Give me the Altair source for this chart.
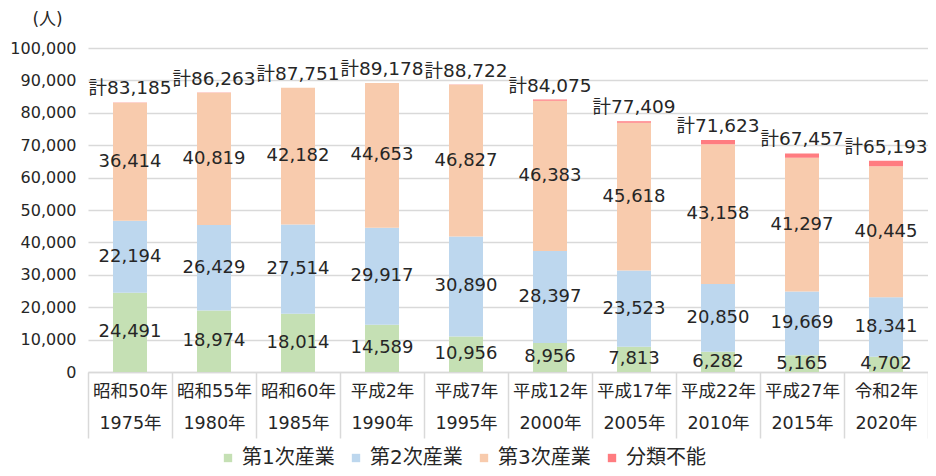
import altair as alt
import pandas as pd

eras = ["昭和50年", "昭和55年", "昭和60年", "平成2年", "平成7年",
        "平成12年", "平成17年", "平成22年", "平成27年", "令和2年"]
years = ["1975年", "1980年", "1985年", "1990年", "1995年",
         "2000年", "2005年", "2010年", "2015年", "2020年"]
primary = [24491, 18974, 18014, 14589, 10956, 8956, 7813, 6282, 5165, 4702]
secondary = [22194, 26429, 27514, 29917, 30890, 28397, 23523, 20850, 19669, 18341]
tertiary = [36414, 40819, 42182, 44653, 46827, 46383, 45618, 43158, 41297, 40445]
totals = [83185, 86263, 87751, 89178, 88722, 84075, 77409, 71623, 67457, 65193]
series = ["第1次産業", "第2次産業", "第3次産業", "分類不能"]
colors = ["#c5e0b4", "#bdd7ee", "#f8cbad", "#ff7c80"]
yticks = [0, 10000, 20000, 30000, 40000, 50000, 60000, 70000, 80000, 90000, 100000]

rows = []
for i in range(len(eras)):
    cat = eras[i] + "|" + years[i]
    unclassified = totals[i] - primary[i] - secondary[i] - tertiary[i]
    vals = [primary[i], secondary[i], tertiary[i], unclassified]
    for k, s in enumerate(series):
        rows.append({"cat": cat, "series": s, "order": k, "value": vals[k], "total": totals[i]})
df = pd.DataFrame(rows)
cats = [eras[i] + "|" + years[i] for i in range(len(eras))]

FONT = "DejaVu Sans, Noto Sans CJK JP"

xscale = alt.Scale(paddingInner=0, paddingOuter=0)
xaxis = alt.Axis(title=None, labelExpr="split(datum.label, '|')",
                 labelAngle=0, labelFontSize=17.5, labelFont=FONT,
                 labelColor="#262626", labelLineHeight=32,
                 labelBaseline="top", labelPadding=-56,
                 tickBand="extent", tickSize=66, tickColor="#d9d9d9",
                 tickWidth=1.5, domainColor="#d9d9d9", domainWidth=1.5,
                 grid=False)
yscale = alt.Scale(domain=[0, 100000])
yaxis = alt.Axis(title="(人)", titleAngle=0, titleX=-41, titleY=-20,
                 titleAlign="center", titleFontSize=17, titleFont=FONT,
                 titleFontWeight="normal", titleColor="#262626",
                 values=yticks, labelExpr="format(datum.value, ',.0f')",
                 labelOverlap=False,
                 labelFontSize=16, labelFont=FONT, labelColor="#262626",
                 labelPadding=12, domain=False, ticks=False,
                 gridColor="#d9d9d9", gridWidth=1.5)

base = alt.Chart(df).transform_stack(
    stack="value", groupby=["cat"], as_=["v0", "v1"],
    sort=[alt.SortField("order", order="ascending")]
).transform_calculate(mid="(datum.v0 + datum.v1) / 2")

bars = base.mark_bar(width=34).encode(
    x=alt.X("cat:N", sort=cats, scale=xscale, axis=xaxis),
    y=alt.Y("v0:Q", scale=yscale, axis=yaxis),
    y2="v1:Q",
    color=alt.Color("series:N", sort=series,
                    scale=alt.Scale(domain=series, range=colors),
                    legend=alt.Legend(title=None, orient="none", direction="horizontal",
                                      legendX=130, legendY=400, padding=0,
                                      symbolType="square",
                                      symbolSize=70, symbolStrokeWidth=0,
                                      labelFontSize=20, labelFont=FONT,
                                      labelColor="#262626", labelOffset=4,
                                      columnPadding=11)),
)

seglabels = base.transform_filter(alt.datum.series != "分類不能").mark_text(
    fontSize=18, font=FONT, color="#262626", baseline="middle"
).encode(
    x=alt.X("cat:N", sort=cats, scale=xscale, axis=xaxis),
    y=alt.Y("mid:Q", scale=yscale, axis=yaxis),
    text=alt.Text("value:Q", format=","),
)

totlabels = alt.Chart(df).transform_filter(alt.datum.order == 0).transform_calculate(
    lab="'計' + format(datum.total, ',')"
).mark_text(fontSize=18.5, font=FONT, color="#262626", baseline="bottom", dy=-4).encode(
    x=alt.X("cat:N", sort=cats, scale=xscale, axis=xaxis),
    y=alt.Y("total:Q", scale=yscale, axis=yaxis),
    text="lab:N",
)

chart = alt.layer(bars, seglabels, totlabels).properties(
    width=840, height=324,
    autosize=alt.AutoSizeParams(type="none"),
    padding={"left": 80, "top": 40, "right": 0, "bottom": 96},
).configure_view(stroke=None)

chart.save("out.html", embed_options={"renderer": "svg", "actions": False})
